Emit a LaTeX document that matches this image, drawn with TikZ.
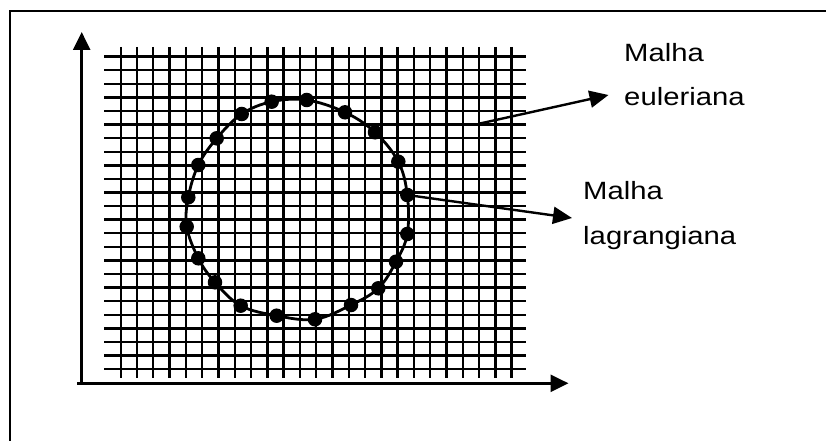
\documentclass[tikz,border=0pt]{standalone}
\usepackage{fontspec}
\setmainfont{Liberation Sans}
\usetikzlibrary{arrows.meta}
\begin{document}
\begin{tikzpicture}[x=1pt,y=-1pt,
  gridline/.style={line width=2.4pt,black},
  axisline/.style={line width=2.6pt,black,-{Triangle[length=18pt,width=17pt]}},
  pointer/.style={line width=2.4pt,black,-{Triangle[length=19pt,width=17pt]}},
  dotmark/.style={circle,fill=black,inner sep=0pt,minimum size=14.5pt},
  lbl/.style={font=\fontsize{25}{29}\selectfont,anchor=base west,inner sep=0pt,xscale=1.17}]
\useasboundingbox (0,0) rectangle (826,441);
% frame
\draw[line width=2.8pt] (10,441) -- (10,11) -- (826,11);
% euler grid
\foreach \i in {0,...,24} {
  \draw[gridline] ({120.7+\i*16.29},47) -- ({120.7+\i*16.29},378);
}
\foreach \j in {0,...,23} {
  \draw[gridline] (104,{56.7+\j*13.58}) -- (526,{56.7+\j*13.58});
}
% axes
\coordinate (origin) at (81.7,383.3);
\coordinate (yend) at (81.7,32);
\coordinate (xstart) at (77,383.3);
\coordinate (xend) at (568.5,383.3);
\draw[axisline] (origin) -- (yend);
\draw[axisline] (xstart) -- (xend);
% lagrangian curve
\draw[line width=2.8pt] plot[smooth cycle,tension=0.6] coordinates {
(306.7,100) (271.7,101.7) (241.7,114) (216.7,138.3) (198.3,165) (188.3,197.3)
(186.7,226.7) (198.3,258.3) (215,282.3) (240.7,305.7) (276.7,315.7) (315,319.3)
(351,305) (378.3,288.3) (396,261.7) (407.3,234) (407.3,195) (398.3,161.7)
(375,132.3) (345,112.3)};
\foreach \p [count=\k] in {(306.7,100),(271.7,101.7),(241.7,114),(216.7,138.3),(198.3,165),(188.3,197.3),
(186.7,226.7),(198.3,258.3),(215,282.3),(240.7,305.7),(276.7,315.7),(315,319.3),
(351,305),(378.3,288.3),(396,261.7),(407.3,234),(407.3,195),(398.3,161.7),
(375,132.3),(345,112.3)} {
  \node[dotmark] (d\k) at \p {};
}
% labels
\node[lbl] (e1) at (624,61.5) {Malha};
\node[lbl] (e2) at (624,106) {euleriana};
\node[lbl] (l1) at (583,199) {Malha};
\node[lbl] (l2) at (583,244) {lagrangiana};
% pointers
\coordinate (estart) at (480,123.5);
\coordinate (etip) at (608.5,95);
\coordinate (ltip) at (572,218);
\draw[pointer] (estart) -- (etip);
\draw[pointer] (d17.center) -- (ltip);
\end{tikzpicture}
\end{document}
